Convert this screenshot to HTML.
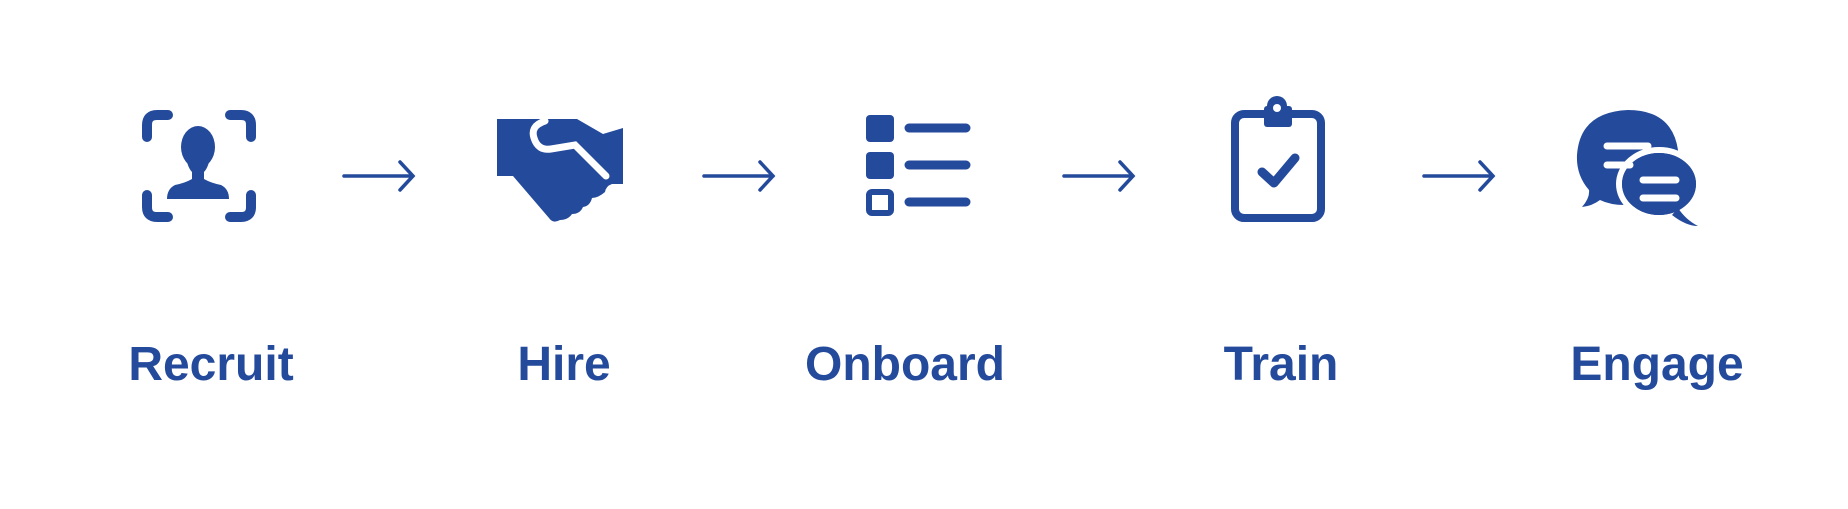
<!DOCTYPE html>
<html><head><meta charset="utf-8"><style>
html,body{margin:0;padding:0;background:#fff;}
body{width:1848px;height:504px;overflow:hidden;}
text{font-family:"Liberation Sans",sans-serif;font-weight:bold;font-size:48px;fill:#244a9c;}
</style></head><body>
<svg width="1848" height="504" viewBox="0 0 1848 504" xmlns="http://www.w3.org/2000/svg">
<g fill="none" stroke="#244a9c" stroke-width="10" stroke-linecap="round" stroke-linejoin="round">
 <path d="M168 115 H157 Q147 115 147 125 V137"/>
 <path d="M230 115 H241 Q251 115 251 125 V137"/>
 <path d="M168 217 H157 Q147 217 147 207 V195"/>
 <path d="M230 217 H241 Q251 217 251 207 V195"/>
</g>
<g fill="#244a9c">
 <ellipse cx="198" cy="147" rx="17" ry="21"/>
 <path d="M185 152 Q187 167 192 172 L192 179 Q185 183 175 185 Q167 189 167 199 L229 199 Q229 189 221 185 Q211 183 204 179 L204 172 Q209 167 211 152 Z"/>
 <path d="M497 119 L542 119 L577 119 L603 134 L623 128 L623 184 L612 184 Q606 186 605 192 Q598 198 592 198 Q590 206 583 207 Q580 214 572 214 Q568 220 560 220 Q553 224 549 218 L513 176 L497 176 Z"/>
</g>
<path d="M545 121 Q530 126 534 138 Q538 151 551 149 L575 145 L606 176" fill="none" stroke="#fff" stroke-width="7" stroke-linecap="round"/>
<g fill="#244a9c">
 <rect x="866" y="115" width="28" height="27" rx="4"/>
 <rect x="866" y="152" width="28" height="27" rx="4"/>
</g>
<g fill="none" stroke="#244a9c" stroke-linecap="round">
 <rect x="869" y="192" width="22" height="21" rx="3" stroke-width="6"/>
 <path d="M909 128 H966 M909 165 H966 M909 202 H966" stroke-width="9"/>
 <rect x="1235" y="114" width="86" height="104" rx="9" stroke-width="8"/>
 <path d="M1262 172 L1274 183 L1295 158" stroke-width="9" stroke-linejoin="round"/>
</g>
<g fill="#244a9c">
 <circle cx="1277" cy="106" r="10"/>
 <rect x="1264" y="106" width="28" height="21" rx="3"/>
</g>
<circle cx="1277" cy="108" r="4" fill="#fff"/>
<g fill="#244a9c">
 <path d="M1582 207 Q1590 198 1589 190 Q1576 175 1577 155 Q1580 112 1628 110 Q1672 110 1678 150 L1660 200 Q1620 210 1600 200 Q1592 206 1582 207 Z"/>
</g>
<g fill="#244a9c" stroke="#fff" stroke-width="6">
 <ellipse cx="1659" cy="184" rx="40" ry="34"/>
</g>
<path d="M1678 208 Q1686 220 1698 226 Q1686 226 1672 215 Z" fill="#244a9c"/>
<ellipse cx="1659" cy="184" rx="37" ry="31" fill="#244a9c"/>
<g stroke="#fff" stroke-width="7" stroke-linecap="round">
 <path d="M1607 146 H1648 M1607 165 H1630 M1643 180 H1676 M1643 198 H1676"/>
</g>
<g fill="none" stroke="#244a9c" stroke-width="3.5" stroke-linecap="round">
 <path d="M344 176 H413 M400 162 L413 176 L400 190"/>
 <path d="M704 176 H773 M760 162 L773 176 L760 190"/>
 <path d="M1064 176 H1133 M1120 162 L1133 176 L1120 190"/>
 <path d="M1424 176 H1493 M1480 162 L1493 176 L1480 190"/>
</g>
<text x="211" y="380" text-anchor="middle">Recruit</text>
<text x="564" y="380" text-anchor="middle">Hire</text>
<text x="905" y="380" text-anchor="middle">Onboard</text>
<text x="1281" y="380" text-anchor="middle">Train</text>
<text x="1657" y="380" text-anchor="middle">Engage</text>
</svg>
</body></html>
